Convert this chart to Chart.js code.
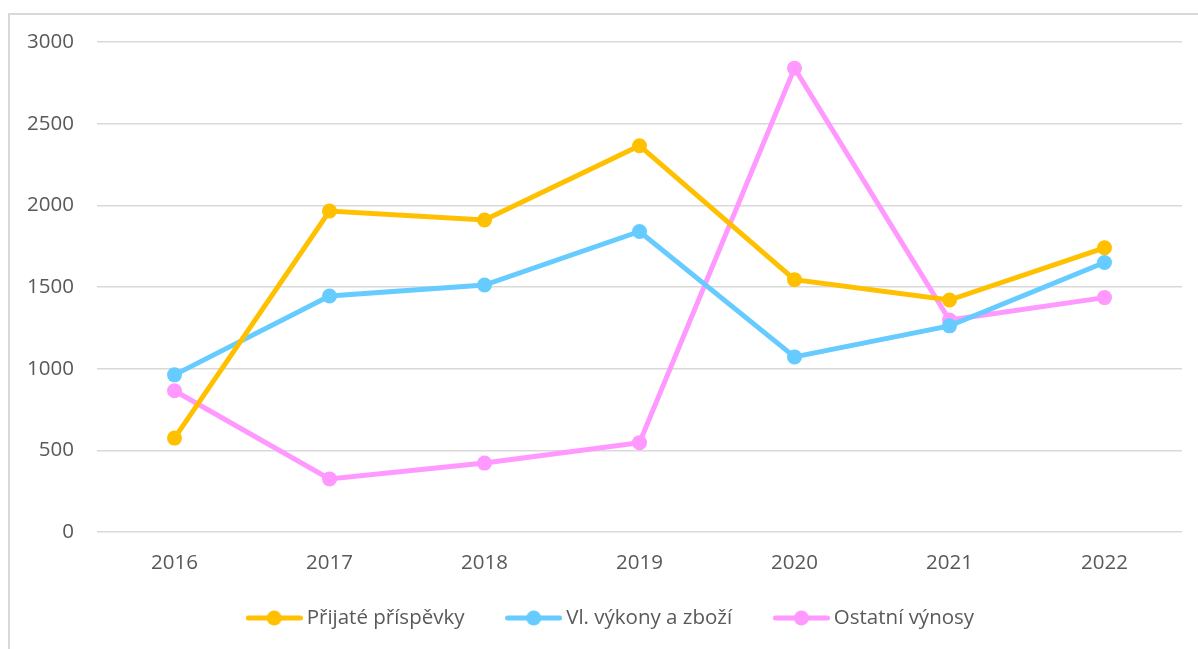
<!DOCTYPE html>
<html><head><meta charset="utf-8">
<script src="https://cdn.jsdelivr.net/npm/chart.js@4"></script>
<style>
html,body{margin:0;padding:0;background:#fff;overflow:hidden;}
#frame{position:absolute;left:8px;top:13px;width:1400px;height:800px;border:2px solid #d9d9d9;box-sizing:border-box;}
#wrap{position:absolute;left:0;top:0;width:1198px;height:649px;}
</style></head><body>
<div id="frame"></div>
<div id="wrap"><canvas id="c" width="1198" height="649"></canvas></div>
<script>
const categories = ['2016','2017','2018','2019','2020','2021','2022'];
const prijate = [575, 1965, 1910, 2365, 1545, 1420, 1740];
const vykony = [962, 1445, 1512, 1840, 1072, 1262, 1650];
const ostatni = [865, 325, 422, 547, 2840, 1298, 1435];
const seriesNames = ['Přijaté příspěvky', 'Vl. výkony a zboží', 'Ostatní výnosy'];
const seriesColors = ['#FFC000', '#66CCFF', '#FF99FF'];
const yTicks = [0, 500, 1000, 1500, 2000, 2500, 3000];

function legendImg(color){
  const cv = document.createElement('canvas');
  cv.width = 57; cv.height = 16;
  const g = cv.getContext('2d');
  g.strokeStyle = color; g.lineWidth = 5; g.lineCap = 'round';
  g.beginPath(); g.moveTo(2.5, 8); g.lineTo(54.5, 8); g.stroke();
  g.fillStyle = color; g.beginPath(); g.arc(28.5, 8, 7.5, 0, Math.PI*2); g.fill();
  return cv;
}
const imgs = seriesColors.map(legendImg);

const layoutPatch = {
  id: 'layoutPatch',
  beforeLayout(chart){
    const lg = chart.legend;
    if (lg && !lg._patched){
      const orig = lg.fit;
      lg.fit = function(){ orig.call(this); this.height = 88.25; };
      lg._patched = true;
    }
  },
  afterLayout(chart){
    const x = chart.scales.x;
    x.bottom = x.top + 50;
    const lg = chart.legend;
    lg.left += 22; lg.right += 22;
  }
};

const font = {family: '"Open Sans", sans-serif', size: 20.5};
new Chart(document.getElementById('c'), {
  type: 'line',
  data: {
    labels: categories,
    datasets: [prijate, vykony, ostatni].map((d, i) => ({
      label: seriesNames[i],
      data: d,
      borderColor: seriesColors[i],
      backgroundColor: seriesColors[i],
      borderWidth: 5,
      pointRadius: 7.5,
      pointBorderWidth: 0,
      pointBackgroundColor: seriesColors[i],
      tension: 0,
      fill: false
    }))
  },
  options: {
    responsive: false,
    animation: false,
    layout: {padding: {left: 0, right: 16, top: 42, bottom: 0}},
    plugins: {
      tooltip: {enabled: false},
      legend: {
        position: 'bottom',
        labels: {
          usePointStyle: true,
          pointStyleWidth: 44.5,
          padding: 47,
          color: '#595959',
          font: font,
          generateLabels(chart){
            return chart.data.datasets.map((ds, i) => ({
              text: ds.label, pointStyle: imgs[i], fillStyle: ds.borderColor,
              strokeStyle: ds.borderColor, lineWidth: 0, hidden: false, datasetIndex: i, fontColor: '#595959'
            }));
          }
        }
      }
    },
    scales: {
      x: {
        offset: true,
        grid: {display: false, drawTicks: false},
        border: {display: false},
        ticks: {color: '#595959', font: font, padding: 18.7, maxRotation: 0},
        afterFit(s){ s.height = 28.75; }
      },
      y: {
        min: 0, max: 3000,
        afterBuildTicks(s){ s.ticks = yTicks.map(v => ({value: v})); },
        grid: {color: '#d9d9d9', lineWidth: 1.5, drawTicks: false},
        border: {display: false},
        ticks: {color: '#595959', font: font, padding: 23, callback: v => String(v)},
        afterFit(s){ s.width = 97; }
      }
    }
  },
  plugins: [layoutPatch]
});
</script>
</body></html>
